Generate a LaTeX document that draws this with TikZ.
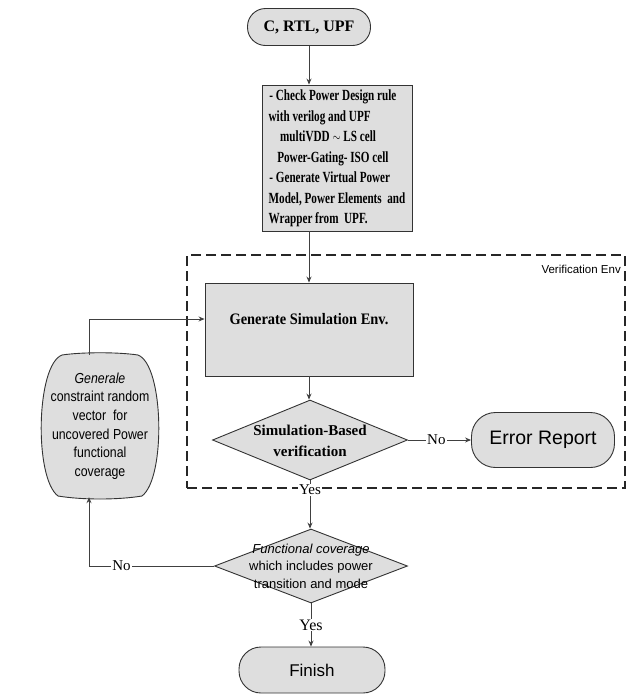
\documentclass[tikz,border=0pt]{standalone}
\usepackage{graphicx}
\usepackage{fontspec}
\setmainfont{Liberation Serif}
\newfontfamily\arialf{Liberation Sans}
\newfontfamily\arialc{Liberation Sans}[FakeStretch=0.85]
\usetikzlibrary{shapes.geometric,arrows.meta}
\begin{document}
\begin{tikzpicture}[x=1pt,y=-1pt,
  shd/.style={fill=black!13, draw=black!80, line width=0.9pt},
  arr/.style={draw=black!75, line width=0.8pt, -{Stealth[length=6pt,width=5pt]}},
  term/.style={shd, rectangle, inner sep=0pt},
  boxn/.style={shd, rectangle, inner sep=0pt},
  dia/.style={shd, diamond, inner sep=0pt},
  lbl/.style={fill=white, inner sep=1pt, font=\fontsize{15}{15}\selectfont},
  plain/.style={inner sep=0pt, align=center}
]
\useasboundingbox (0,0) rectangle (630,697);

% top terminal
\node[term, rounded corners=18pt, minimum width=123pt, minimum height=37pt,
  font=\fontsize{16}{16}\selectfont\bfseries] (start) at (309,27) {C, RTL, UPF};

% first box
\node[boxn, minimum width=150pt, minimum height=146pt,
  font=\fontsize{15.5}{20.5}\selectfont\bfseries] (chk) at (337,158)
  {\scalebox{0.72}[1]{\begin{tabular}{@{}l@{}}
   \hspace{1pt}- Check Power Design rule\\
   with verilog and UPF\\
   \hspace{16pt}multiVDD $\sim$ LS cell\\
   \hspace{12pt}Power-Gating- ISO cell\\
   \hspace{1pt}- Generate Virtual Power\\
   Model, Power Elements\ \ and\\
   Wrapper from\ \ UPF.
   \end{tabular}}};

% verification env container
\node[draw=black!85, line width=1.2pt, dash pattern=on 10pt off 5pt,
  minimum width=438pt, minimum height=233pt, inner sep=0pt] (venv) at (406,371.5) {};
\node[anchor=north east, inner sep=0pt, font=\arialf\fontsize{11.5}{11.5}\selectfont] (vlab)
  at (621,265) {Verification Env};

% generate simulation env
\node[boxn, minimum width=208pt, minimum height=93pt] (sim) at (309,329.5) {};
\node[plain, font=\fontsize{16}{16}\selectfont\bfseries] (simt) at (309,319)
  {\scalebox{0.9}[1]{Generate Simulation Env.}};

% decision 1
\node[dia, minimum width=195pt, minimum height=80pt] (d1) at (310,440) {};
\node[plain, font=\fontsize{15}{21}\selectfont\bfseries] (d1t) at (310,441)
  {Simulation-Based\\verification};

% error report
\node[term, rounded corners=24pt, minimum width=143pt, minimum height=55pt,
  font=\arialf\fontsize{19.5}{19.5}\selectfont] (err) at (543,440) {Error Report};

% left barrel node
\draw[shd] (62,355) .. controls (82,352) and (118,352) .. (138,355)
  .. controls (164,365) and (166,478) .. (142,496)
  .. controls (118,500) and (82,500) .. (58,496)
  .. controls (34,478) and (36,365) .. (62,355) -- cycle;
\node[plain, minimum width=116pt, minimum height=142pt,
  font=\arialc\fontsize{14.5}{18.6}\selectfont] (gen) at (100,426)
  {{\itshape Generale}\\constraint random\\vector\ \ for\\uncovered Power\\functional\\coverage};
\coordinate (gx) at (89,426);

% decision 2
\node[dia, minimum width=193pt, minimum height=74pt] (d2) at (311,566) {};
\node[plain, font=\arialf\fontsize{13}{17.5}\selectfont] (d2t) at (311,566)
  {{\itshape Functional coverage}\\which includes power\\transition and mode};

% finish
\node[term, rounded corners=22pt, minimum width=146pt, minimum height=46pt,
  font=\arialf\fontsize{17}{17}\selectfont] (fin) at (312,670) {Finish};

% connectors
\draw[arr] (start.south) -- (start.south |- chk.north);
\draw[arr] (start.south |- chk.south) -- (start.south |- sim.north);
\draw[arr] (sim.south) -- (sim.south |- d1.north);
\draw[arr] (d1.east) -- node[lbl, pos=0.45] {No} (err.west);
\draw[arr] (d1.south) -- node[lbl, pos=0.2] {Yes} (d1.south |- d2.north);
\draw[arr] (d2.south) -- node[lbl, pos=0.5, font=\fontsize{16}{16}\selectfont] {Yes} (d2.south |- fin.north);
\draw[arr] (d2.west) -| node[lbl, pos=0.37] {No} (gx |- gen.south);
\draw[arr] (gx |- gen.north) |- (simt -| sim.west);
\end{tikzpicture}
\end{document}
